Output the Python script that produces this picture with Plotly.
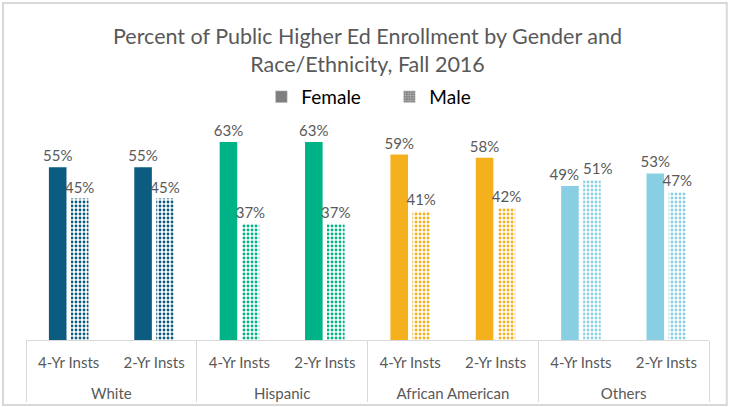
import plotly.graph_objects as go

groups = ["White", "White", "Hispanic", "Hispanic", "African American", "African American", "Others", "Others"]
inst_types = ["4-Yr Insts", "2-Yr Insts"] * 4
female = [55, 55, 63, 63, 59, 58, 49, 53]
male = [45, 45, 37, 37, 41, 42, 51, 47]
group_colors = ["#0B5C80", "#0B5C80", "#00B386", "#00B386", "#F5B01E", "#F5B01E", "#89CFE3", "#89CFE3"]

FONT = "Lato"
TXT = "#595959"
NB = "\u00a0"

xcats = [["<br>" + g for g in groups], inst_types]

# labels nudged apart where adjacent labels would collide (as the original does)
female_text = [f"{v}%" for v in female]
male_text = [f"{v}%" for v in male]
female_text[6] = female_text[6] + NB * 3
male_text[6] = NB * 3 + male_text[6]

fig = go.Figure()
fig.add_trace(go.Bar(
    x=xcats, y=female, name="Female", showlegend=False,
    marker=dict(color=group_colors, line=dict(width=0)),
    text=female_text, textposition="outside", cliponaxis=False,
    constraintext="none",
    textfont=dict(family=FONT, size=15, color=TXT),
))
fig.add_trace(go.Bar(
    x=xcats, y=male, name="Male", showlegend=False,
    marker=dict(color=group_colors, line=dict(width=0),
                pattern=dict(shape=".", fgcolor="white", bgcolor=group_colors,
                             size=4, solidity=0.4, fillmode="replace")),
    text=male_text, textposition="outside", cliponaxis=False,
    constraintext="none",
    textfont=dict(family=FONT, size=15, color=TXT),
))
# legend-only entries (gray swatches)
fig.add_trace(go.Bar(x=[None], y=[None], name="Female", marker=dict(color="#7F7F7F"),
                     xaxis="x2", yaxis="y2"))
fig.add_trace(go.Bar(x=[None], y=[None], name="Male",
                     marker=dict(color="#9A9A9A",
                                 pattern=dict(shape=".", fgcolor="white", bgcolor="#7F7F7F",
                                              size=3, solidity=0.4)),
                     xaxis="x2", yaxis="y2"))

fig.update_layout(
    width=730, height=407,
    margin=dict(l=26, r=21, t=120, b=67),
    paper_bgcolor="white", plot_bgcolor="white",
    barmode="group", bargap=0.485, bargroupgap=0.2,
    title=dict(text="Percent of Public Higher Ed Enrollment by Gender and<br>Race/Ethnicity, Fall 2016",
               x=0.5, xref="paper", y=0.892, yanchor="middle",
               font=dict(family=FONT, size=21.5, color=TXT)),
    legend=dict(orientation="h", x=0.532, xanchor="center", y=1.105, yanchor="middle",
                font=dict(family=FONT, size=19, color="#000000"),
                entrywidth=83, entrywidthmode="pixels",
                bgcolor="rgba(0,0,0,0)"),
    xaxis=dict(type="multicategory", automargin=False, showline=True, linecolor="#D9D9D9", linewidth=1,
               showdividers=True, dividercolor="#D9D9D9", dividerwidth=1,
               ticks="", ticklabelstandoff=9,
               tickfont=dict(family=FONT, size=15, color=TXT), showgrid=False),
    yaxis=dict(range=[0, 70], visible=False, showgrid=False, automargin=False),
    xaxis2=dict(visible=False, overlaying="x"),
    yaxis2=dict(visible=False, overlaying="y"),
    shapes=[dict(type="rect", xref="paper", yref="paper",
                 x0=-0.0337, x1=1.026, y0=-0.295, y1=1.532,
                 line=dict(color="#D9D9D9", width=2), fillcolor="rgba(0,0,0,0)", layer="below")],
)

fig.write_html("out.html", config={"displayModeBar": False},
               post_script="document.body.style.margin='0';document.body.style.overflow='hidden';")
